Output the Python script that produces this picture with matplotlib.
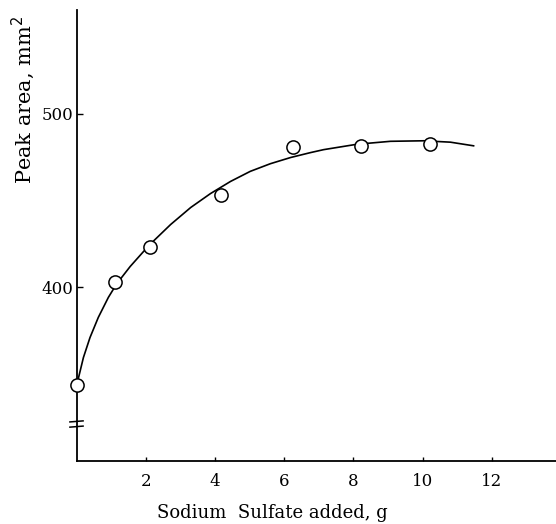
import matplotlib
matplotlib.use("Agg")
import matplotlib.pyplot as plt

# measured points
salt_g = [0.0, 1.11, 2.12, 4.16, 6.25, 8.22, 10.22]
peak_area = [344, 403, 423, 453, 481, 481.5, 482.5]

# smooth curve
curve_x = [0.03, 0.06, 0.20, 0.39, 0.63, 0.92, 1.16, 1.55, 1.93, 2.22, 2.72, 3.30,
           3.87, 4.45, 5.02, 5.60, 6.19, 6.76, 7.14, 8.10, 9.07, 10.03, 10.80, 11.47]
curve_y = [346, 348.1, 359.6, 371.1, 382.7, 394.2, 402.0, 412.0, 420.5, 426.6, 436.2,
           446.0, 454.0, 461.0, 466.8, 471.2, 474.8, 477.6, 479.3, 482.4, 484.1, 484.4,
           483.6, 481.5]

x_ticks = [2, 4, 6, 8, 10, 12]
y_ticks = [400, 500]

plt.rcParams['font.family'] = ['DejaVu Serif']

W, H = 556, 524
fig = plt.figure(figsize=(W / 100, H / 100), dpi=100)
x0_px, xaxis_px = 76.5, 461
ax = fig.add_axes([x0_px / W, (H - xaxis_px) / H, (W - x0_px) / W, (xaxis_px - 9.5) / H])
ax.set_xlim(0, 13.85)
ax.set_ylim(300, 560)

ax.plot(curve_x, curve_y, color='black', lw=1.2, zorder=2, solid_joinstyle='round')
ax.plot(salt_g, peak_area, 'o', ms=9.5, mfc='white', mec='black', mew=1.1, zorder=3,
        clip_on=False)

for s in ['top', 'right']:
    ax.spines[s].set_visible(False)
for s in ['left', 'bottom']:
    ax.spines[s].set_linewidth(1.3)

ax.set_xticks(x_ticks)
ax.set_xticklabels([str(t) for t in x_ticks])
ax.set_yticks(y_ticks)
ax.set_yticklabels([str(t) for t in y_ticks])
ax.tick_params(axis='x', direction='in', length=3, width=1, labelsize=12, pad=9)
ax.tick_params(axis='y', direction='in', length=4, width=1, labelsize=12, pad=2)

# axis break marks
for yb in (319.8, 322.8):
    ax.plot([-0.19, 0.19], [yb - 0.3, yb + 0.3], color='black', lw=1.1, clip_on=False)

fig.text(272 / W, 1 - 513 / H, 'Sodium  Sulfate added, g', ha='center', va='center',
         fontsize=13)
fig.text(23 / W, 1 - 100 / H, 'Peak area, mm$^2$', ha='center', va='center',
         rotation=90, fontsize=15)

fig.savefig('out.png', dpi=100)
